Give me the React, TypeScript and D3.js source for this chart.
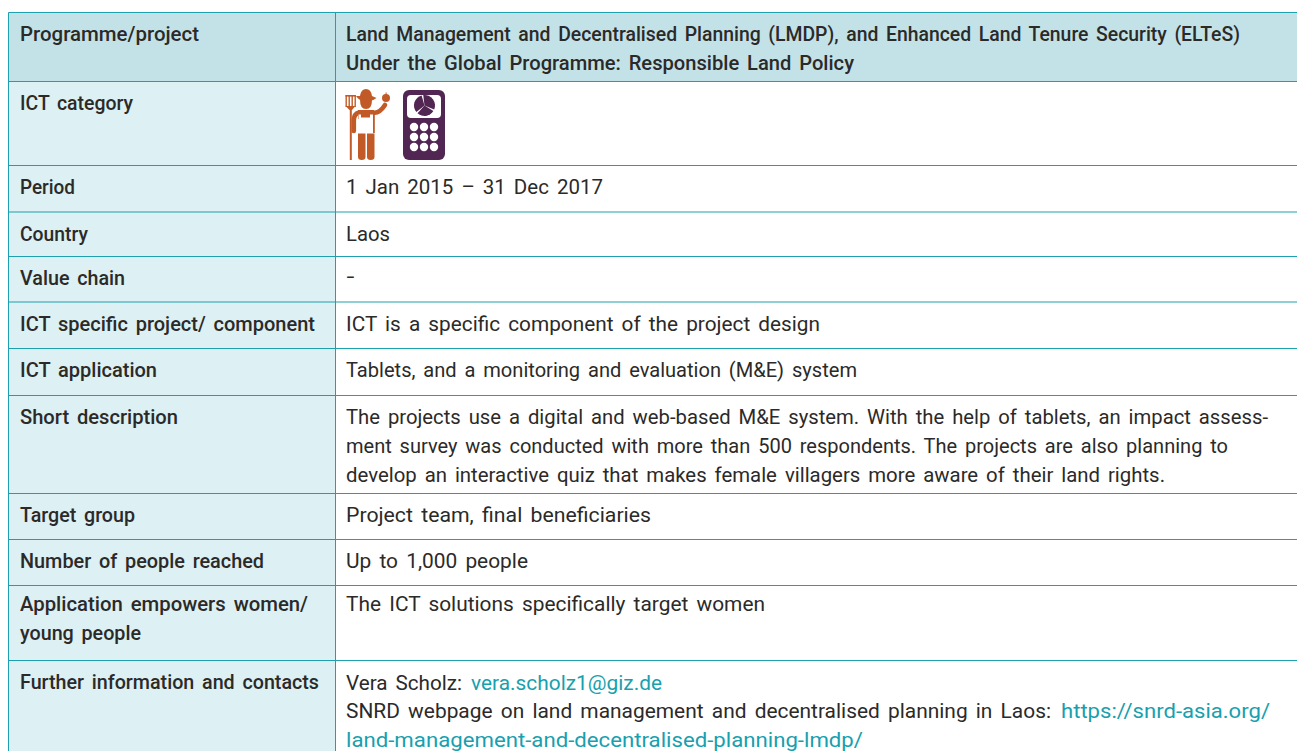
import React, { useEffect, useRef } from 'react';
import * as d3 from 'd3';

const rowLabels = [
  ['Programme/project'],
  ['ICT category'],
  ['Period'],
  ['Country'],
  ['Value chain'],
  ['ICT specific project/ component'],
  ['ICT application'],
  ['Short description'],
  ['Target group'],
  ['Number of people reached'],
  ['Application empowers women/', 'young people'],
  ['Further information and contacts'],
];

const rowValues = [
  ['Land Management and Decentralised Planning (LMDP), and Enhanced Land Tenure Security (ELTeS)', 'Under the Global Programme: Responsible Land Policy'],
  [],
  ['1 Jan 2015 – 31 Dec 2017'],
  ['Laos'],
  ['–'],
  ['ICT is a specific component of the project design'],
  ['Tablets, and a monitoring and evaluation (M&E) system'],
  [
    'The projects use a digital and web-based M&E system. With the help of tablets, an impact assess-',
    'ment survey was conducted with more than 500 respondents. The projects are also planning to',
    'develop an interactive quiz that makes female villagers more aware of their land rights.',
  ],
  ['Project team, final beneficiaries'],
  ['Up to 1,000 people'],
  ['The ICT solutions specifically target women'],
  [],
];

// phone icon screen: three slices of the small pie
const pieShares = [36, 30, 34];

// layout, rules sit on half pixels in places so they blur like the scan
const rowEdges = [12.5, 81.5, 165.5, 212, 256.5, 302, 348.5, 395.5, 493.5, 539.5, 585.5, 660.5, 760];
const colEdges = [8.5, 335.5, 1310];
const labelBase = [41, 110, 194, 241, 285, 331, 377, 424, 522, 568, 611, 689];
const labelEnds = [[199], [133], [75], [88], [125], [315], [157], [178], [135], [264], [308, 141], [319]];
const valueBase = [41, 0, 194, 241, 285, 331, 377, 424, 522, 568, 611, 0];
const valueEnds = [[1240, 854], [], [603], [390], [355], [820], [857], [1268, 1228, 1165], [651], [528], [765], []];
const lineStep = 29;

const INK = '#2b2a29';
const LINK = '#17a0ae';
const RULE = '#1fa0ae';
const FARMER = '#c25a27';
const PHONE = '#522652';
const FONT = 'Roboto, sans-serif';

// contact lines are a mix of plain text and links
const contactRuns = [
  { text: 'Vera Scholz:', x0: 346, x1: 462, base: 690, color: INK },
  { text: 'vera.scholz1@giz.de', x0: 471, x1: 662, base: 690, color: LINK },
  { text: 'SNRD webpage on land management and decentralised planning in Laos:', x0: 346, x1: 1051, base: 718, color: INK },
  { text: 'https://snrd-asia.org/', x0: 1061, x1: 1270, base: 718, color: LINK },
  { text: 'land-management-and-decentralised-planning-lmdp/', x0: 346, x1: 863, base: 747, color: LINK },
];

const drawFarmer = (svg: any) => {
  const g = svg.append('g').attr('fill', FARMER);
  // pitchfork
  d3.range(4).forEach((i) => {
    g.append('rect').attr('x', 345.5 + i * 3).attr('y', 95).attr('width', 1.4).attr('height', 12);
  });
  g.append('rect').attr('x', 345.5).attr('y', 95).attr('width', 10.5).attr('height', 1.6);
  g.append('path').attr('d', 'M345.5,106 H355.4 L352,110 H349.5 Z');
  g.append('rect').attr('x', 349.8).attr('y', 108).attr('width', 2).attr('height', 52);
  // hat
  g.append('path').attr('d', 'M356,96 H360 Q361,89 366,89 Q371,89 372,96 L376.5,98 Q372,102 366,100 Q360,102 356,96 Z');
  // head
  g.append('path').attr('d', 'M360,100 H372 Q372,109 366,109 Q360,109 360,100 Z');
  // torso
  g.append('rect').attr('x', 358).attr('y', 110).attr('width', 16).attr('height', 9);
  // arms
  g.append('path')
    .attr('fill', 'none')
    .attr('stroke', FARMER)
    .attr('stroke-width', 4.6)
    .attr('stroke-linejoin', 'round')
    .attr('stroke-linecap', 'round')
    .attr('d', 'M359,112.5 Q354,114 353.8,120 V131');
  g.append('path')
    .attr('fill', 'none')
    .attr('stroke', FARMER)
    .attr('stroke-width', 4.6)
    .attr('stroke-linejoin', 'round')
    .attr('stroke-linecap', 'round')
    .attr('d', 'M373,112.5 Q379,114 385,105');
  // apron and bib
  g.append('rect').attr('x', 358.5).attr('y', 114.5).attr('width', 15).attr('height', 18.5).attr('fill', '#fff');
  g.append('rect').attr('x', 361).attr('y', 110).attr('width', 9).attr('height', 7.5);
  g.append('rect').attr('x', 373).attr('y', 114).attr('width', 1.8).attr('height', 19);
  // legs
  g.append('path').attr('d', 'M358,133.5 H365.5 V157 Q365.5,160 361.7,160 Q358,160 358,157 Z');
  g.append('path').attr('d', 'M367,133.5 H374.5 V157 Q374.5,160 370.7,160 Q367,160 367,157 Z');
  // apple
  g.append('circle').attr('cx', 386).attr('cy', 98).attr('r', 4);
  g.append('rect').attr('x', 385.6).attr('y', 92.5).attr('width', 1).attr('height', 3);
};

const drawPhone = (svg: any) => {
  const g = svg.append('g');
  g.append('rect').attr('x', 403).attr('y', 90).attr('width', 42).attr('height', 70).attr('rx', 6).attr('fill', PHONE);
  g.append('rect').attr('x', 407).attr('y', 95).attr('width', 34).attr('height', 23).attr('rx', 4).attr('fill', '#fff');

  const pie = d3.pie<number>().sort(null).padAngle(0.16).startAngle(-0.2).endAngle(Math.PI * 2 - 0.2);
  const arc = d3.arc<d3.PieArcDatum<number>>().innerRadius(0).outerRadius(10.5);
  g.append('g')
    .attr('transform', 'translate(424.5,105.5)')
    .selectAll('path')
    .data(pie(pieShares))
    .enter()
    .append('path')
    .attr('d', arc)
    .attr('fill', PHONE);

  const keyX = d3.scalePoint<number>().domain([0, 1, 2]).range([414, 434]);
  const keyY = d3.scalePoint<number>().domain([0, 1, 2]).range([127, 147]);
  d3.cross([0, 1, 2], [0, 1, 2]).forEach(([c, r]) => {
    g.append('circle').attr('cx', keyX(c)).attr('cy', keyY(r)).attr('r', 4.2).attr('fill', '#fff');
  });
};

const App = () => {
  const ref = useRef<SVGSVGElement>(null);

  useEffect(() => {
    const svg = d3.select(ref.current);
    svg.selectAll('*').remove();

    const rows = d3.pairs(rowEdges);
    const g = svg.append('g');

    // fills
    g.selectAll('rect.left')
      .data(rows)
      .enter()
      .append('rect')
      .attr('x', colEdges[0])
      .attr('y', (d) => d[0])
      .attr('width', colEdges[1] - colEdges[0])
      .attr('height', (d) => d[1] - d[0])
      .attr('fill', (d, i) => (i === 0 ? '#c3e2e7' : '#ddf0f3'));

    g.append('rect')
      .attr('x', colEdges[1])
      .attr('y', rowEdges[0])
      .attr('width', colEdges[2] - colEdges[1])
      .attr('height', rowEdges[1] - rowEdges[0])
      .attr('fill', '#c3e2e7');

    // rules
    g.selectAll('line.h')
      .data(rowEdges.slice(0, -1))
      .enter()
      .append('line')
      .attr('x1', colEdges[0])
      .attr('x2', colEdges[2])
      .attr('y1', (d) => d)
      .attr('y2', (d) => d)
      .attr('stroke', RULE)
      .attr('stroke-width', 1);

    g.selectAll('line.v')
      .data(colEdges.slice(0, 2))
      .enter()
      .append('line')
      .attr('x1', (d) => d)
      .attr('x2', (d) => d)
      .attr('y1', rowEdges[0])
      .attr('y2', rowEdges[rowEdges.length - 1])
      .attr('stroke', RULE)
      .attr('stroke-width', 1);

    const addText = (t: string, x0: number, x1: number, y: number, color: string, weight: number) => {
      svg
        .append('text')
        .attr('x', x0)
        .attr('y', y)
        .attr('font-family', FONT)
        .attr('font-size', 21)
        .attr('font-weight', weight)
        .attr('fill', color)
        .attr('word-spacing', 3)
        .attr('textLength', x1 - x0)
        .attr('lengthAdjust', 'spacingAndGlyphs')
        .text(t);
    };

    rowLabels.forEach((lines, i) => {
      lines.forEach((t, j) => addText(t, 20, labelEnds[i][j], labelBase[i] + j * lineStep, INK, 500));
    });
    rowValues.forEach((lines, i) => {
      lines.forEach((t, j) => addText(t, 346, valueEnds[i][j], valueBase[i] + j * lineStep, INK, i === 0 ? 500 : 400));
    });
    contactRuns.forEach((r) => addText(r.text, r.x0, r.x1, r.base, r.color, 400));

    drawFarmer(svg);
    drawPhone(svg);
  }, []);

  return (
    <svg ref={ref} width={1297} height={751} style={{ position: 'absolute', left: 0, top: 0, background: '#fff' }}>
    </svg>
  );
};

export default App;
